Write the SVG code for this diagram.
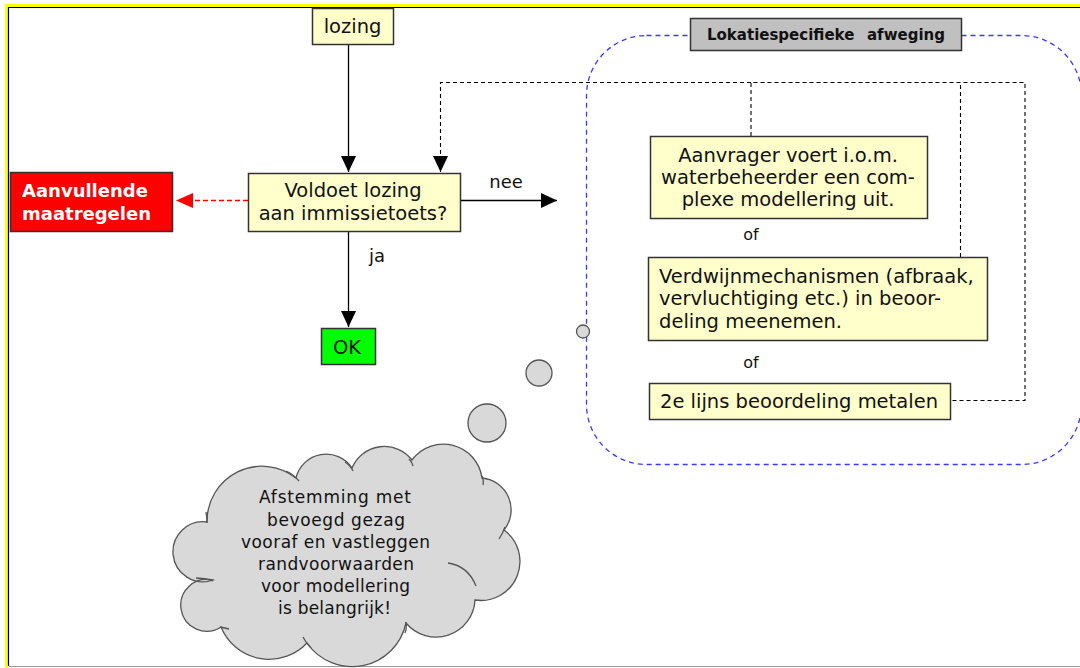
<svg xmlns="http://www.w3.org/2000/svg" width="1080" height="668" viewBox="0 0 1080 668">
<style>
.t{font-family:"DejaVu Sans",Verdana,sans-serif;fill:#111}
.box{fill:#ffffcc;stroke:#333;stroke-width:1.5}
.solid{stroke:#000;stroke-width:1.3;fill:none}
.dash{stroke:#000;stroke-width:1.1;fill:none;stroke-dasharray:4 3}
.rdash{stroke:#f00;stroke-width:1.3;fill:none;stroke-dasharray:5 3}
.blue{stroke:#3a3aff;stroke-width:1.3;fill:none;stroke-dasharray:5 4}
.cloud{fill:#d9d9d9;stroke:#555;stroke-width:1.3}
.crease{fill:none;stroke:#555;stroke-width:1.3}
</style>
<defs>
<marker id="ah" markerUnits="userSpaceOnUse" markerWidth="16" markerHeight="16" refX="16" refY="7.5" orient="auto"><path d="M0,0 L16,7.5 L0,15 z" fill="#000"/></marker>
<marker id="ahr" markerUnits="userSpaceOnUse" markerWidth="17" markerHeight="16" refX="17" refY="7.5" orient="auto"><path d="M0,0 L17,7.5 L0,15 z" fill="#f00"/></marker>
</defs>
<rect width="1080" height="668" fill="#fff"/>
<g id="frame">
<path d="M6.5,668 V5.5 H1080" fill="none" stroke="#ffff00" stroke-width="3"/>
<path d="M8.5,666 V7.5 H1080" fill="none" stroke="#000" stroke-width="1.2"/>
<path d="M9,666.5 H1080" fill="none" stroke="#999" stroke-width="1.2"/>
</g>
<g id="group-lokatie">
<rect x="586.5" y="35.5" width="495" height="429" rx="60" ry="60" class="blue"/>
</g>
<g id="connectors">
<line x1="348.5" y1="45" x2="348.5" y2="172" class="solid" marker-end="url(#ah)"/>
<line x1="348.5" y1="231" x2="348.5" y2="327" class="solid" marker-end="url(#ah)"/>
<line x1="460" y1="200.5" x2="557" y2="200.5" class="solid" marker-end="url(#ah)"/>
<line x1="248" y1="200.5" x2="176" y2="200.5" class="rdash" marker-end="url(#ahr)"/>
<path d="M751,136 V82.5 H1025 V400.5 H950" class="dash"/>
<path d="M960.5,257 V82.5" class="dash"/>
<path d="M751,82.5 H440.5 V172" class="dash" marker-end="url(#ah)"/>
</g>
<g id="lbl-nee"><text class="t" x="506" y="188" font-size="18" text-anchor="middle">nee</text></g>
<g id="lbl-ja"><text class="t" x="377" y="262" font-size="18" text-anchor="middle">ja</text></g>
<g id="node-lozing">
<rect x="312.5" y="8.5" width="81" height="36" class="box"/>
<text class="t" x="352.5" y="33" font-size="19.5" text-anchor="middle">lozing</text>
</g>
<g id="node-voldoet">
<rect x="248.5" y="173.5" width="212" height="58" class="box"/>
<text class="t" x="353" y="197" font-size="19.5" text-anchor="middle">Voldoet lozing</text>
<text class="t" x="353" y="220" font-size="19.5" text-anchor="middle">aan immissietoets?</text>
</g>
<g id="node-aanvullende">
<rect x="10.5" y="172.5" width="162" height="59" fill="#ff0000" stroke="#333" stroke-width="1.5"/>
<text x="22" y="197" font-family="'DejaVu Sans',Verdana,sans-serif" font-weight="bold" font-size="18" fill="#fff">Aanvullende</text>
<text x="22" y="220" font-family="'DejaVu Sans',Verdana,sans-serif" font-weight="bold" font-size="18" fill="#fff">maatregelen</text>
</g>
<g id="node-ok">
<rect x="321.5" y="328.5" width="54" height="36" fill="#00ff00" stroke="#333" stroke-width="1.5"/>
<text class="t" x="347" y="354" font-size="19.5" text-anchor="middle">OK</text>
</g>
<g id="node-lokatie-title">
<rect x="690.5" y="18.5" width="271" height="32" fill="#c0c0c0" stroke="#333" stroke-width="1.5"/>
<text class="t" y="40" font-size="15" font-weight="bold"><tspan x="707">Lokatiespecifieke</tspan><tspan x="867">afweging</tspan></text>
</g>
<g id="node-aanvrager">
<rect x="650.5" y="136.5" width="277" height="82" class="box"/>
<text class="t" x="788" y="162" font-size="19.5" text-anchor="middle">Aanvrager voert i.o.m.</text>
<text class="t" x="788" y="184" font-size="19.5" text-anchor="middle">waterbeheerder een com-</text>
<text class="t" x="788" y="206" font-size="19.5" text-anchor="middle">plexe modellering uit.</text>
</g>
<g id="lbl-of1"><text class="t" x="751" y="240" font-size="16" text-anchor="middle">of</text></g>
<g id="node-verdwijn">
<rect x="648.5" y="257.5" width="339" height="83" class="box"/>
<text class="t" x="659" y="283" font-size="19.5">Verdwijnmechanismen (afbraak,</text>
<text class="t" x="659" y="305" font-size="19.5">vervluchtiging etc.) in beoor-</text>
<text class="t" x="659" y="328" font-size="19.5">deling meenemen.</text>
</g>
<g id="lbl-of2"><text class="t" x="751" y="368" font-size="16" text-anchor="middle">of</text></g>
<g id="node-metalen">
<rect x="649.5" y="383.5" width="301" height="36" class="box"/>
<text class="t" x="660" y="408" font-size="19.5">2e lijns beoordeling metalen</text>
</g>
<g id="node-cloud">
<circle cx="583" cy="331.5" r="6.5" class="cloud"/>
<circle cx="539" cy="373" r="13" class="cloud"/>
<circle cx="487" cy="423" r="19" class="cloud"/>
<path class="cloud" d="M207,522 A55,55 0 0 1 296,478 A31,31 0 0 1 352,468 A35,35 0 0 1 412,460 A39,39 0 0 1 482,478 A32,32 0 0 1 504,530 A39,39 0 0 1 475,600 A39,39 0 0 1 406,623 A55,55 0 0 1 307,643 A52,52 0 0 1 221,627 A26,26 0 1 1 213,580 A30,30 0 1 1 207,522 Z"/>
<path class="crease" d="M286,471 Q293,474 299,481 M345,462 Q350,465 353,471 M409,459 Q412,462 413,466 M482,476 Q484,480 483,485 M499,539 Q503,533 505,527 M448,563 Q468,566 476,586 M406,622 Q407,628 405,633 M303,637 Q306,643 311,648 M220,627 Q225,628 229,629 M196,578 Q205,578 213,581 M206,512 Q207,517 207,523"/>
<g class="t" font-size="17" text-anchor="middle">
<text x="335" y="503" textLength="152">Afstemming met</text>
<text x="336" y="526" textLength="138">bevoegd gezag</text>
<text x="335.5" y="548" textLength="189">vooraf en vastleggen</text>
<text x="336" y="570" textLength="156">randvoorwaarden</text>
<text x="335.5" y="592" textLength="149">voor modellering</text>
<text x="334.5" y="614" textLength="113">is belangrijk!</text>
</g>
</g>
</svg>
